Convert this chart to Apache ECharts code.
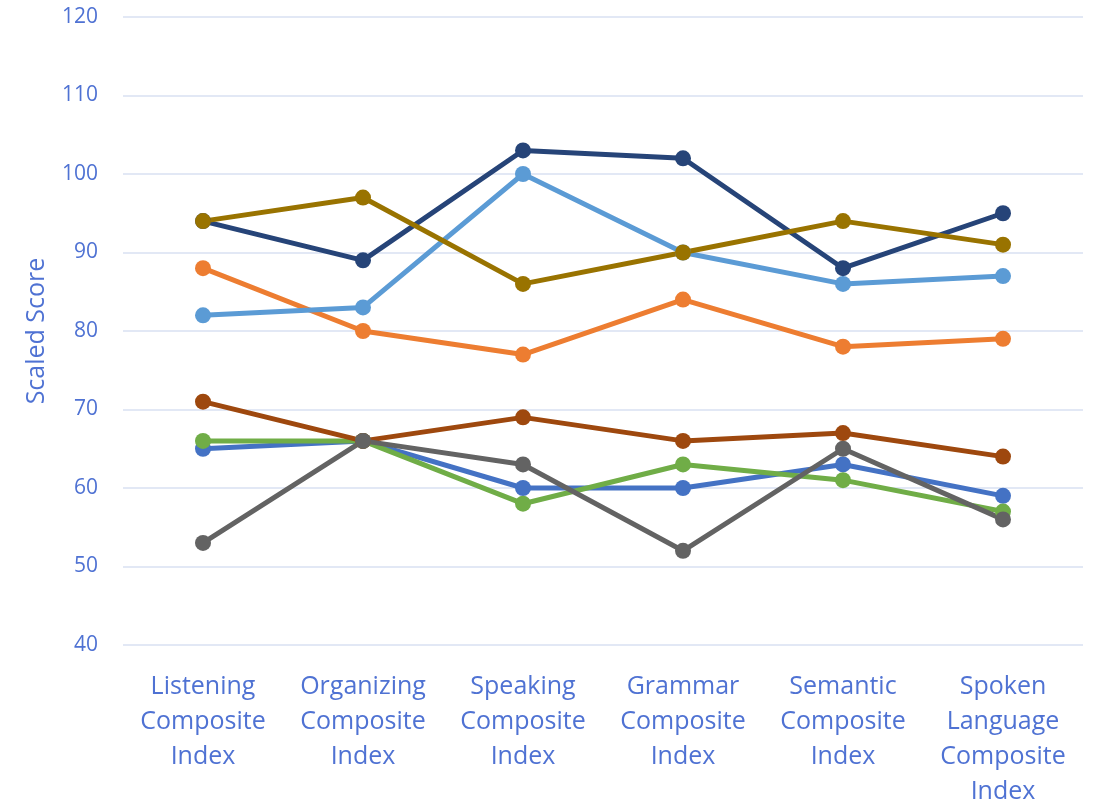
<!DOCTYPE html>
<html>
<head>
<meta charset="utf-8">
<script src="https://cdn.jsdelivr.net/npm/echarts@6/dist/echarts.min.js"></script>
<style>
  html, body { margin: 0; padding: 0; background: #fff; }
  #chart { width: 1094px; height: 800px; }
</style>
</head>
<body>
<div id="chart"></div>
<script>
// categories
const categories = [
  'Listening\nComposite\nIndex',
  'Organizing\nComposite\nIndex',
  'Speaking\nComposite\nIndex',
  'Grammar\nComposite\nIndex',
  'Semantic\nComposite\nIndex',
  'Spoken\nLanguage\nComposite\nIndex'
];

// series values (in drawing order)
const blueVals      = [65, 66, 60, 60, 63, 59];
const orangeVals    = [88, 80, 77, 84, 78, 79];
const lightBlueVals = [82, 83, 100, 90, 86, 87];
const greenVals     = [66, 66, 58, 63, 61, 57];
const navyVals      = [94, 89, 103, 102, 88, 95];
const brownVals     = [71, 66, 69, 66, 67, 64];
const grayVals      = [53, 66, 63, 52, 65, 56];
const goldVals      = [94, 97, 86, 90, 94, 91];

const seriesList = [
  { name: 's1', color: '#4472C4', data: blueVals },
  { name: 's2', color: '#ED7D31', data: orangeVals },
  { name: 's3', color: '#5B9BD5', data: lightBlueVals },
  { name: 's4', color: '#70AD47', data: greenVals },
  { name: 's5', color: '#264478', data: navyVals },
  { name: 's6', color: '#9E480E', data: brownVals },
  { name: 's7', color: '#636363', data: grayVals },
  { name: 's8', color: '#997300', data: goldVals }
];

const labelColor = '#4F72D3';
const fontFam = '"Open Sans", "Noto Sans", sans-serif';

const chart = echarts.init(document.getElementById('chart'));
chart.setOption({
  animation: false,
  backgroundColor: '#fff',
  grid: { left: 123, right: 11, top: 17, bottom: 155, outerBoundsMode: 'none', containLabel: false },
  xAxis: {
    type: 'category',
    data: categories,
    boundaryGap: true,
    axisLine: { show: false },
    axisTick: { show: false },
    axisLabel: {
      color: labelColor,
      fontSize: 25,
      lineHeight: 35,
      fontFamily: fontFam,
      margin: 24,
      interval: 0
    }
  },
  yAxis: {
    type: 'value',
    min: 40,
    max: 120,
    interval: 10,
    name: 'Scaled Score',
    nameLocation: 'middle',
    nameGap: 74,
    nameTextStyle: { color: labelColor, fontSize: 25, fontFamily: fontFam },
    axisLine: { show: false },
    axisTick: { show: false },
    axisLabel: { color: labelColor, fontSize: 21, fontFamily: fontFam, margin: 25 },
    splitLine: { lineStyle: { color: '#D9E1F2', width: 1.5 } }
  },
  series: seriesList.map(s => ({
    name: s.name,
    type: 'line',
    data: s.data,
    symbol: 'circle',
    symbolSize: 16,
    lineStyle: { color: s.color, width: 5 },
    itemStyle: { color: s.color },
    emphasis: { disabled: true }
  }))
});
</script>
</body>
</html>
